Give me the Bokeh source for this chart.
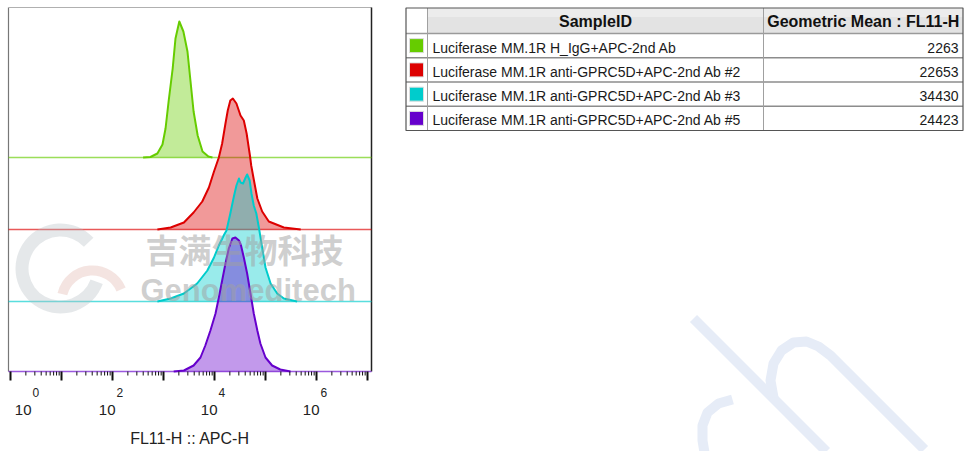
from bokeh.plotting import figure
from bokeh.layouts import row
from bokeh.models import Range1d, Label
from bokeh.embed import file_html
from bokeh.resources import INLINE
from bokeh.core.properties import value

# ---------------- data ----------------
samples = [
    "Luciferase MM.1R H_IgG+APC-2nd Ab",
    "Luciferase MM.1R anti-GPRC5D+APC-2nd Ab #2",
    "Luciferase MM.1R anti-GPRC5D+APC-2nd Ab #3",
    "Luciferase MM.1R anti-GPRC5D+APC-2nd Ab #5",
]
geo_means = [2263, 22653, 34430, 24423]
colors = ["#66CC00", "#DD0000", "#00CCCC", "#6600CC"]
decades = [0, 1, 2, 3, 4, 5, 6, 7]
tick_exponents = [0, 2, 4, 6]
table_headers = ["SampleID", "Geometric Mean : FL11-H"]
x_title = "FL11-H :: APC-H"

# histograms: log10(FL11-H) bin positions and heights (offset overlay units)
green_log = [2.60, 2.745, 2.88, 2.98, 3.04, 3.10, 3.18, 3.235, 3.31, 3.39, 3.47, 3.53, 3.59, 3.67, 3.765, 3.88, 3.96]
green_cnt = [0, 0.5, 4, 13, 29, 56, 89, 119, 136, 126, 106, 76, 46, 22, 6, 1, 0]

red_log = [2.88, 3.14, 3.40, 3.59, 3.76, 3.89, 3.99, 4.085, 4.15, 4.215, 4.26, 4.31, 4.36, 4.43, 4.51, 4.575, 4.63, 4.665, 4.695, 4.72, 4.77, 4.84, 4.935, 5.065, 5.36, 5.69]
red_cnt = [0, 2, 7, 17, 28, 42, 58, 72, 86, 106, 119, 129, 131, 126, 114, 109, 96, 84, 74, 64, 50, 31, 18, 8, 2, 0]

cyan_log = [2.88, 3.14, 3.40, 3.66, 3.86, 3.99, 4.085, 4.18, 4.235, 4.31, 4.38, 4.43, 4.48, 4.51, 4.56, 4.61, 4.64, 4.69, 4.725, 4.77, 4.82, 4.87, 4.935, 5.00, 5.10, 5.23, 5.36, 5.62]
cyan_cnt = [0, 3, 8, 18, 31, 44, 56, 66, 71, 88, 105, 116, 123, 119, 118, 124, 127, 121, 108, 96, 88, 74, 54, 34, 18, 8, 3, 0]

purple_log = [3.20, 3.40, 3.59, 3.725, 3.82, 3.92, 4.02, 4.085, 4.15, 4.215, 4.28, 4.35, 4.41, 4.48, 4.52, 4.575, 4.64, 4.706, 4.77, 4.84, 4.90, 5.00, 5.13, 5.29, 5.49]
purple_cnt = [0, 1, 6, 14, 26, 41, 58, 74, 91, 108, 123, 133, 134, 131, 126, 114, 98, 78, 58, 41, 28, 14, 6, 2, 0]

series_log = [green_log, red_log, cyan_log, purple_log]
series_cnt = [green_cnt, red_cnt, cyan_cnt, purple_cnt]
track_offsets = [214, 142, 70, 0]

FONT = "Liberation Sans"

# ---------------- histogram overlay (frame = whole canvas, log x scale) ----------------
DEC = 51.0     # pixels per decade
X0 = 10.0      # pixel position of 10^0


def lx(px):
    return 10 ** ((px - X0) / DEC)


W1, H = 398, 451
p1 = figure(width=W1, height=H, x_axis_type="log",
            x_range=Range1d(lx(0), lx(W1)), y_range=Range1d(-80, 371),
            x_axis_location=None, y_axis_location=None,
            output_backend="svg", toolbar_location=None, min_border=0)
p1.grid.visible = False
p1.outline_line_color = None

x_lo, x_hi, y_top = lx(8), lx(371), 364

# plot box (left, top, right edges)
p1.line(x=[x_lo, x_lo], y=[0, y_top], line_color="#777777", line_width=1.2)
p1.line(x=[x_lo, x_hi], y=[y_top, y_top], line_color="#b0b0b0", line_width=1.2)
p1.line(x=[x_hi, x_hi], y=[0, y_top], line_color="#222222", line_width=1.5)

for lg, cnt, off, col in zip(series_log, series_cnt, track_offsets, colors):
    xs = [10 ** v for v in lg]
    ys = [off + c for c in cnt]
    p1.line(x=[x_lo, x_hi], y=[off, off], line_color=col, line_width=1.5, line_alpha=0.65)
    p1.varea(x=xs, y1=[off] * len(xs), y2=ys, fill_color=col, fill_alpha=0.4)
    p1.line(x=xs, y=ys, line_color=col, line_width=2, line_join="round")

# x axis ticks on the log scale
major = [10 ** k for k in decades]
minor = [m * 10 ** k for k in decades[:-1] for m in range(2, 10)]
p1.segment(x0=major, y0=[0] * len(major), x1=major, y1=[-9] * len(major),
           line_color="#111111", line_width=2)
p1.segment(x0=minor, y0=[0] * len(minor), x1=minor, y1=[-4] * len(minor),
           line_color="#111111", line_width=1)

# tick labels 10^k
lab_x = [10 ** k for k in tick_exponents]
shifts = [21 if k == 0 else 3 for k in tick_exponents]
p1.text(x=lab_x, y=[-38] * len(lab_x), x_offset=shifts, text=["10"] * len(lab_x),
        text_align="right", text_baseline="middle", text_font=value(FONT),
        text_font_size="15px", text_color="#222222")
p1.text(x=lab_x, y=[-21] * len(lab_x), x_offset=[s + 1 for s in shifts],
        text=[str(k) for k in tick_exponents], text_align="left", text_baseline="middle",
        text_font=value(FONT), text_font_size="12px", text_color="#222222")
p1.text(x=[lx(189.5)], y=[-66.5], text=[x_title], text_align="center",
        text_baseline="middle", text_font=value(FONT), text_font_size="16px",
        text_color="#222222")

# watermark (decoration)
p1.annular_wedge(x=[lx(60)], y=[103], inner_radius=32, outer_radius=45,
                 inner_radius_units="screen", outer_radius_units="screen",
                 start_angle=0.75, end_angle=-0.35, fill_color="#b4bcc4", fill_alpha=0.35,
                 line_color=None)
p1.annular_wedge(x=[lx(92)], y=[70], inner_radius=26, outer_radius=36,
                 inner_radius_units="screen", outer_radius_units="screen",
                 start_angle=0.4, end_angle=2.9, fill_color="#dca59c", fill_alpha=0.3,
                 line_color=None)
p1.add_layout(Label(x=lx(145), y=123, text="吉满生物科技", text_font="Noto Sans CJK SC",
                    text_font_style="bold", text_font_size="33px", text_color="#a0a0a0",
                    text_alpha=0.5, text_baseline="middle"))
p1.add_layout(Label(x=lx(140), y=81, text="Genomeditech", text_font=FONT,
                    text_font_style="bold", text_font_size="31px", text_color="#a0a0a0",
                    text_alpha=0.5, text_baseline="middle"))

# ---------------- table ----------------
W2 = 566
p2 = figure(width=W2, height=H, x_range=Range1d(0, W2), y_range=Range1d(H, 0),
            x_axis_location=None, y_axis_location=None, output_backend="svg",
            toolbar_location=None, min_border=0)
p2.grid.visible = False
p2.outline_line_color = None

# decorative watermark strokes (bottom right)
wm = "#e6ecf7"
p2.line(x=[295, 428], y=[318, 451], line_color=wm, line_width=10)
p2.line(x=[375, 372, 375, 383, 395, 408, 420, 432, 526], y=[397, 380, 363, 350, 342, 341, 346, 355, 449],
        line_color=wm, line_width=10, line_join="round")
p2.line(x=[334, 320, 309, 304, 304, 306], y=[399, 403, 412, 425, 440, 452],
        line_color=wm, line_width=10, line_join="round")

t_left, c_sw, c_id, t_right = 7.5, 29, 365, 564.5
t_top, h_head, h_row = 7.5, 25.5, 24.25
n = len(samples)
row_tops = [t_top + h_head + i * h_row for i in range(n)]
row_mid = [rt + h_row / 2 for rt in row_tops]
t_bot = row_tops[-1] + h_row

p2.quad(left=[c_sw], right=[t_right], top=[t_top], bottom=[t_top + h_head],
        fill_color="#e3e3e3", line_color=None)
p2.quad(left=[c_sw], right=[t_right], top=[t_top], bottom=[t_top + 9],
        fill_color="#ececec", line_color=None)

# grid lines
for yy in row_tops[1:]:
    p2.line(x=[t_left, t_right], y=[yy, yy], line_color="#8c8c8c", line_width=1.5)
p2.line(x=[t_left, t_right], y=[t_top + h_head, t_top + h_head], line_color="#9a9a9a", line_width=1.5)
for xx in [c_sw, c_id]:
    p2.line(x=[xx, xx], y=[t_top, t_bot], line_color="#a0a0a0", line_width=1)
p2.quad(left=[t_left], right=[t_right], top=[t_top], bottom=[t_bot],
        fill_color=None, line_color="#555555", line_width=1.2)

# swatches
p2.rect(x=[18] * n, y=row_mid, width=14, height=14, fill_color=colors,
        line_color="#dddddd", line_width=1)

# texts
p2.text(x=[(c_sw + c_id) / 2, (c_id + t_right) / 2], y=[21] * 2,
        text=table_headers, text_align="center", text_baseline="middle",
        text_font=value(FONT), text_font_style="bold", text_font_size="16px",
        text_color="#111111")
p2.text(x=[c_sw + 5] * n, y=[m + 2 for m in row_mid], text=samples,
        text_align="left", text_baseline="middle", text_font=value(FONT),
        text_font_size="14px", text_color="#1a1a1a")
p2.text(x=[t_right - 4.5] * n, y=[m + 2 for m in row_mid], text=[str(v) for v in geo_means],
        text_align="right", text_baseline="middle", text_font=value(FONT),
        text_font_size="14px", text_color="#1a1a1a")

layout = row(p1, p2)
open("out.html", "w").write(file_html(layout, INLINE))
